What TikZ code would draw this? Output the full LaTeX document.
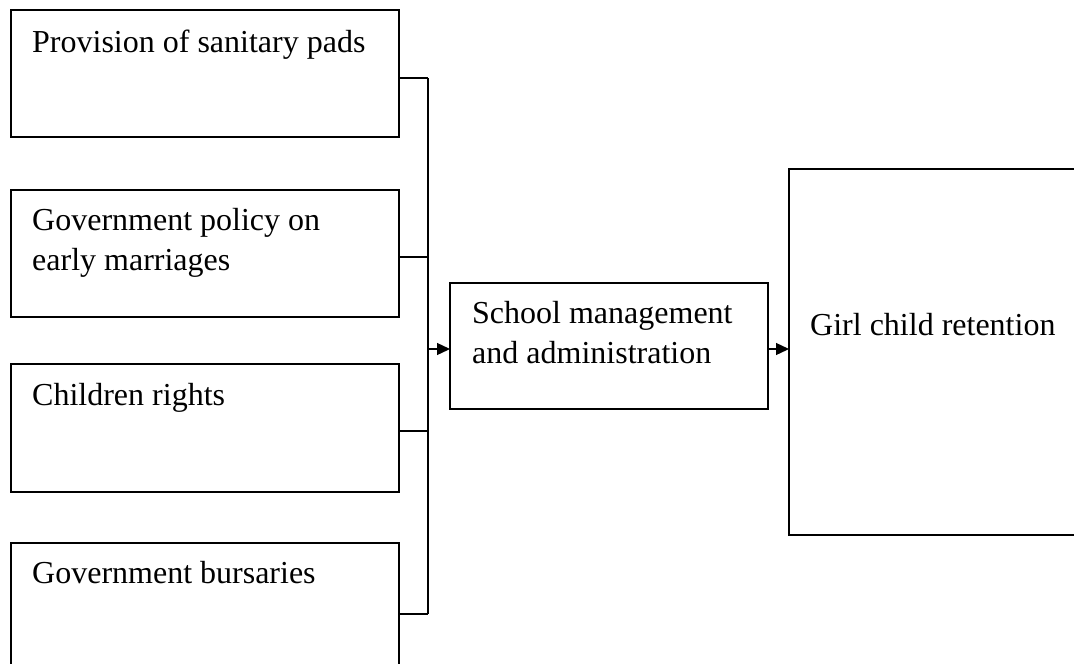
\documentclass[tikz,border=0pt]{standalone}
\usepackage{fontspec}
\setmainfont{Liberation Serif}
\usetikzlibrary{arrows.meta}
\tikzset{
  box/.style={draw, line width=1.3pt, inner sep=0pt, outer sep=0pt, anchor=north west},
  lbl/.style={anchor=base west, inner sep=0pt, font=\fontsize{32}{40}\selectfont},
  conn/.style={line width=1.3pt},
  arr/.style={line width=1.3pt, -{Triangle[length=13pt,width=12pt]}}
}
\begin{document}
\begin{tikzpicture}[x=1pt,y=-1pt]
\useasboundingbox (0,0) rectangle (1074,664);
\clip (0,0) rectangle (1074,664);
% left boxes
\node[box, minimum width=388pt, minimum height=127pt] (b1) at (11,10) {};
\node[box, minimum width=388pt, minimum height=127pt] (b2) at (11,190) {};
\node[box, minimum width=388pt, minimum height=128pt] (b3) at (11,364) {};
\node[box, minimum width=388pt, minimum height=140pt] (b4) at (11,543) {};
\node[box, minimum width=318pt, minimum height=126pt] (b5) at (450,283) {};
\node[box, minimum width=310pt, minimum height=366pt] (b6) at (789,169) {};
% texts
\node[lbl] (t1) at (32,52) {Provision of sanitary pads};
\node[lbl] (t2a) at (32,230) {Government policy on};
\node[lbl] (t2b) at (32,270) {early marriages};
\node[lbl] (t3) at (32,405) {Children rights};
\node[lbl] (t4) at (32,583) {Government bursaries};
\node[lbl] (t5a) at (472,323) {School management};
\node[lbl] (t5b) at (472,363) {and administration};
\node[lbl] (t6) at (810,335) {Girl child retention};
% bus coordinates
\coordinate (j1) at (428,78);
\coordinate (j2) at (428,257);
\coordinate (j3) at (428,431);
\coordinate (j4) at (428,614);
\coordinate (jm) at (428,349);
\coordinate (km) at (778,349);
% connectors
\draw[conn] (b1.east |- j1) -- (j1);
\draw[conn] (b2.east |- j2) -- (j2);
\draw[conn] (b3.east |- j3) -- (j3);
\draw[conn] (b4.east |- j4) -- (j4);
\draw[conn] (j1) -- (j4);
\draw[arr] (jm) -- (b5.west |- jm);
\draw[arr] (b5.east |- km) -- (b6.west |- km);
\end{tikzpicture}
\end{document}
